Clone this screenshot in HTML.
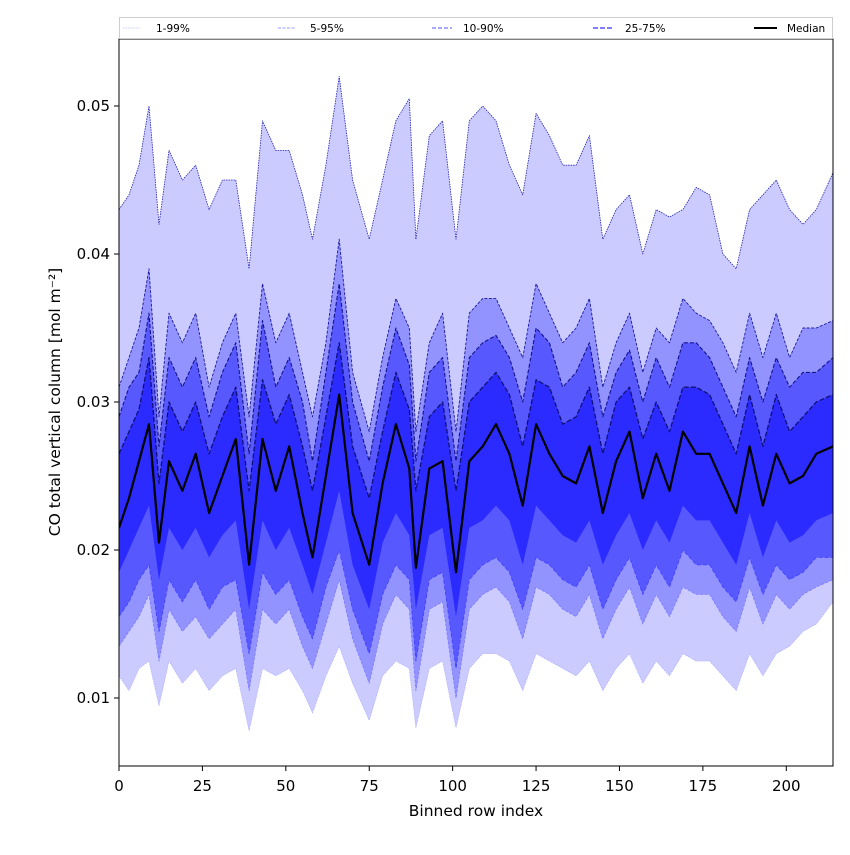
<!DOCTYPE html>
<html><head><meta charset="utf-8">
<style>
html,body{margin:0;padding:0;background:#fff;}
svg text{font-family:"DejaVu Sans","Liberation Sans",sans-serif;}
</style></head>
<body>
<svg id="chart" width="850" height="850" viewBox="0 0 850 850" xmlns="http://www.w3.org/2000/svg">
<rect x="0" y="0" width="850" height="850" fill="#fff"/>
<defs><clipPath id="clip"><rect x="119" y="39" width="714" height="727"/></clipPath></defs>
<g id="bands" clip-path="url(#clip)"></g>
<rect x="119" y="39" width="714" height="727" fill="none" stroke="#000" stroke-width="1"/>
<g id="xaxis"></g>
<g id="yaxis"></g>
<text x="476" y="816" font-size="15.5" text-anchor="middle">Binned row index</text>
<text transform="translate(60,402) rotate(-90)" font-size="15.5" text-anchor="middle">CO total vertical column [mol m⁻²]</text>
<g>
<rect x="119.5" y="17.5" width="713" height="21" fill="#fff" stroke="#ccc"/>
<g><line x1="123" y1="28" x2="140" y2="28" stroke="#ccccff" stroke-width="1" stroke-dasharray="1.5,1"/><text x="156" y="32" font-size="10.5">1-99%</text></g>
<g><line x1="278" y1="28" x2="295" y2="28" stroke="#9797ff" stroke-width="1" stroke-dasharray="3,1.5"/><text x="310" y="32" font-size="10.5">5-95%</text></g>
<g><line x1="432" y1="28" x2="452" y2="28" stroke="#7777ff" stroke-width="1.3" stroke-dasharray="4,2"/><text x="463" y="32" font-size="10.5">10-90%</text></g>
<g><line x1="593" y1="28" x2="612" y2="28" stroke="#5555ff" stroke-width="1.6" stroke-dasharray="5,2"/><text x="625" y="32" font-size="10.5">25-75%</text></g>
<g><line x1="754" y1="28" x2="777" y2="28" stroke="#000" stroke-width="2"/><text x="787" y="32" font-size="10.5">Median</text></g>
</g>
</svg>
<script>
const xIdx=[0,3,6,9,12,15,19,23,27,31,35,39,43,47,51,55,58,62,66,70,75,79,83,87,89,93,97,101,105,109,113,117,121,125,129,133,137,141,145,149,153,157,161,165,169,173,177,181,185,189,193,197,201,205,209,214];
const median=[0.0215,0.0235,0.026,0.0285,0.0205,0.026,0.024,0.0265,0.0225,0.025,0.0275,0.019,0.0275,0.024,0.027,0.0225,0.0195,0.025,0.0305,0.0225,0.019,0.0245,0.0285,0.0255,0.0188,0.0255,0.026,0.0185,0.026,0.027,0.0285,0.0265,0.023,0.0285,0.0265,0.025,0.0245,0.027,0.0225,0.026,0.028,0.0235,0.0265,0.024,0.028,0.0265,0.0265,0.0245,0.0225,0.027,0.023,0.0265,0.0245,0.025,0.0265,0.027];
const p75=[0.0265,0.028,0.0295,0.033,0.0245,0.030,0.028,0.030,0.0265,0.029,0.031,0.024,0.0315,0.0285,0.0305,0.027,0.024,0.029,0.034,0.027,0.0235,0.028,0.032,0.0295,0.024,0.029,0.030,0.024,0.030,0.031,0.032,0.0305,0.027,0.0315,0.031,0.0285,0.029,0.031,0.0265,0.030,0.031,0.0275,0.030,0.028,0.031,0.031,0.0305,0.0285,0.0265,0.0305,0.027,0.0305,0.028,0.029,0.030,0.0305];
const p90=[0.029,0.031,0.032,0.036,0.027,0.033,0.031,0.033,0.029,0.032,0.034,0.0265,0.0355,0.031,0.033,0.030,0.026,0.032,0.038,0.030,0.026,0.031,0.035,0.0325,0.026,0.032,0.033,0.026,0.033,0.034,0.0345,0.033,0.030,0.035,0.034,0.031,0.032,0.034,0.029,0.032,0.0335,0.030,0.033,0.031,0.034,0.034,0.033,0.031,0.029,0.033,0.030,0.033,0.031,0.032,0.032,0.033];
const p95=[0.031,0.033,0.035,0.039,0.029,0.036,0.034,0.036,0.031,0.034,0.036,0.029,0.038,0.034,0.036,0.032,0.029,0.034,0.041,0.032,0.028,0.033,0.037,0.035,0.028,0.034,0.036,0.028,0.036,0.037,0.037,0.035,0.033,0.038,0.036,0.034,0.035,0.037,0.031,0.034,0.036,0.032,0.035,0.034,0.037,0.036,0.0355,0.034,0.032,0.036,0.033,0.036,0.033,0.035,0.035,0.0355];
const p99=[0.043,0.044,0.046,0.050,0.042,0.047,0.045,0.046,0.043,0.045,0.045,0.039,0.049,0.047,0.047,0.044,0.041,0.046,0.052,0.045,0.041,0.045,0.049,0.0505,0.041,0.048,0.049,0.041,0.049,0.050,0.049,0.046,0.044,0.0495,0.048,0.046,0.046,0.048,0.041,0.043,0.044,0.040,0.043,0.0425,0.043,0.0445,0.044,0.040,0.039,0.043,0.044,0.045,0.043,0.042,0.043,0.0455];
const p25=[0.0185,0.020,0.0215,0.023,0.018,0.0215,0.020,0.0215,0.0195,0.021,0.022,0.016,0.022,0.020,0.0215,0.019,0.017,0.0205,0.024,0.019,0.016,0.0205,0.0225,0.021,0.016,0.021,0.0215,0.0155,0.0215,0.022,0.023,0.022,0.019,0.023,0.022,0.021,0.0205,0.022,0.019,0.021,0.0225,0.020,0.022,0.0205,0.023,0.022,0.022,0.0205,0.019,0.0225,0.0195,0.022,0.0205,0.021,0.022,0.0225];
const p10=[0.0155,0.0165,0.018,0.019,0.0145,0.018,0.0165,0.018,0.016,0.0175,0.018,0.013,0.0185,0.017,0.018,0.0155,0.014,0.0175,0.020,0.016,0.013,0.017,0.019,0.018,0.0125,0.018,0.0185,0.012,0.018,0.019,0.0195,0.0185,0.016,0.0195,0.019,0.018,0.0175,0.019,0.016,0.018,0.0195,0.017,0.019,0.0175,0.020,0.019,0.019,0.0175,0.0165,0.0195,0.017,0.019,0.018,0.0185,0.0195,0.0195];
const p5=[0.0135,0.0145,0.0155,0.017,0.0125,0.016,0.0145,0.0155,0.014,0.015,0.016,0.0105,0.016,0.015,0.016,0.0135,0.012,0.015,0.018,0.014,0.011,0.015,0.017,0.016,0.0105,0.016,0.0165,0.010,0.016,0.017,0.0175,0.0165,0.014,0.0175,0.017,0.016,0.0155,0.017,0.014,0.016,0.0175,0.015,0.017,0.0155,0.0175,0.017,0.017,0.0155,0.0145,0.0175,0.015,0.017,0.016,0.017,0.0175,0.018];
const p1=[0.0115,0.0105,0.012,0.0125,0.0095,0.0125,0.011,0.012,0.0105,0.0115,0.012,0.0078,0.012,0.0115,0.012,0.0105,0.009,0.0115,0.0135,0.011,0.0085,0.0115,0.0125,0.012,0.008,0.012,0.0125,0.008,0.012,0.013,0.013,0.0125,0.0105,0.013,0.0125,0.012,0.0115,0.0125,0.0105,0.012,0.013,0.011,0.0125,0.0115,0.013,0.0125,0.0125,0.0115,0.0105,0.013,0.0115,0.013,0.0135,0.0145,0.015,0.0165];
const xTicks=[0,25,50,75,100,125,150,175,200];
const yTicks=[0.01,0.02,0.03,0.04,0.05];
const yTickLabels=["0.01","0.02","0.03","0.04","0.05"];

const NS="http://www.w3.org/2000/svg";
const X0=119,X1=833,XMAX=214;
function sx(v){return X0+(v/XMAX)*(X1-X0);}
function sy(v){return 106+(0.05-v)*14800;}
const gB=document.getElementById('bands');
function pts(arr){return arr.map((v,i)=>sx(xIdx[i]).toFixed(1)+','+sy(v).toFixed(1));}
function band(lo,hi,fill,name){
  const p=document.createElementNS(NS,'polygon');
  p.setAttribute('points',pts(hi).concat(pts(lo).reverse()).join(' '));
  p.setAttribute('fill',fill);
  
  
  gB.appendChild(p);
}
function line(arr,stroke,w,dash,name){
  const p=document.createElementNS(NS,'polyline');
  p.setAttribute('points',pts(arr).join(' '));
  p.setAttribute('fill','none');p.setAttribute('stroke',stroke);
  p.setAttribute('stroke-width',w);
  if(dash)p.setAttribute('stroke-dasharray',dash);
  p.setAttribute('stroke-linejoin','round');
  
  
  gB.appendChild(p);
}
band(p1,p99,'#cbcbff','band-1-99');
band(p5,p95,'#9393ff','band-5-95');
band(p10,p90,'#5858ff','band-10-90');
band(p25,p75,'#2b2bff','band-25-75');
line(p1,'#b0b0ff',0.8,'1.5,1','line-p1');
line(p5,'#7a7aff',0.8,'3,1.5','line-p5');
line(p10,'#4444ff',0.9,'4,2','line-p10');
line(p99,'#2020b0',0.8,'1.5,1','line-p99');
line(p95,'#1a1aa0',0.9,'3,1.5','line-p95');
line(p90,'#14148a',1.1,'4,2','line-p90');
line(p75,'#10107a',1.3,'5,2','line-p75');
line(median,'#000',2.2,null,'line-median');

const gx=document.getElementById('xaxis');
xTicks.forEach(t=>{
  const l=document.createElementNS(NS,'line');
  l.setAttribute('x1',sx(t));l.setAttribute('x2',sx(t));l.setAttribute('y1',766);l.setAttribute('y2',771);l.setAttribute('stroke','#000');
  
  
  gx.appendChild(l);
  const tx=document.createElementNS(NS,'text');
  tx.setAttribute('x',sx(t));tx.setAttribute('y',791);tx.setAttribute('font-size','15');tx.setAttribute('text-anchor','middle');
  tx.textContent=String(t);
  
  
  gx.appendChild(tx);
});
const gy=document.getElementById('yaxis');
yTicks.forEach((t,i)=>{
  const l=document.createElementNS(NS,'line');
  l.setAttribute('x1',114);l.setAttribute('x2',119);l.setAttribute('y1',sy(t));l.setAttribute('y2',sy(t));l.setAttribute('stroke','#000');
  
  
  gy.appendChild(l);
  const tx=document.createElementNS(NS,'text');
  tx.setAttribute('x',110);tx.setAttribute('y',sy(t)+5);tx.setAttribute('font-size','15');tx.setAttribute('text-anchor','end');
  tx.textContent=yTickLabels[i];
  
  
  gy.appendChild(tx);
});
</script>
</body></html>
